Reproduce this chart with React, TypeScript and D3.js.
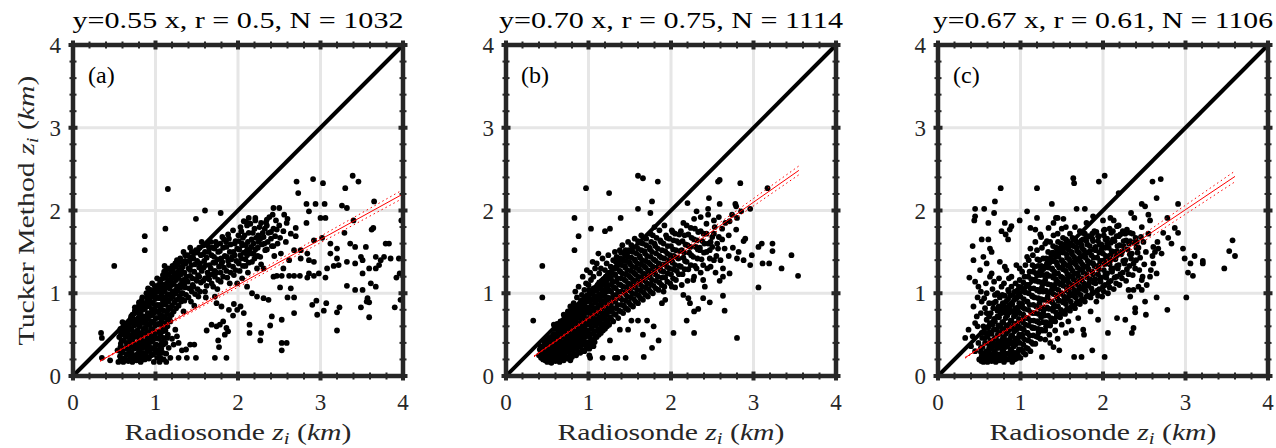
import React from 'react';
import * as d3 from 'd3';

// titles, labels and fit parameters
const titles = ['y=0.55 x, r = 0.5, N = 1032', 'y=0.70 x, r = 0.75, N = 1114', 'y=0.67 x, r = 0.61, N = 1106'];
const panelLabels = ['(a)', '(b)', '(c)'];
const slopes = [0.55, 0.7, 0.67];
const slopeErr = [0.013, 0.015, 0.018];
const fitRange = [[0.33, 4.0], [0.34, 3.55], [0.33, 3.6]];
const tickValues = [0, 1, 2, 3, 4];

type P = [number, number];

const pointsA: P[] = [
  [1.15,2.26],[0.50,1.33],[0.87,1.69],[0.87,1.52],[1.12,1.78],[1.60,2.00],[1.49,1.90],[1.79,1.97],[2.71,2.35],[2.73,2.21],
  [2.91,2.38],[3.03,2.33],[3.39,2.42],[3.46,2.35],[3.30,2.27],[3.65,2.11],[2.83,2.08],[2.94,2.08],[3.05,2.08],[2.86,1.99],
  [3.00,1.91],[3.06,1.91],[3.26,2.06],[3.32,2.03],[3.40,1.88],[3.62,1.77],[3.64,1.79],[3.98,1.88],[3.29,1.73],[2.70,1.79],
  [2.83,1.85],[2.70,1.69],[2.92,1.64],[3.02,1.67],[3.12,1.60],[3.20,1.54],[3.36,1.60],[3.42,1.56],[3.55,1.56],[3.79,1.60],
  [3.83,1.60],[3.77,1.44],[3.85,1.42],[3.95,1.42],[3.67,1.44],[3.73,1.40],[3.71,1.34],[3.49,1.44],[3.51,1.40],[3.67,1.30],
  [3.59,1.30],[3.51,1.24],[3.42,1.36],[3.32,1.38],[3.22,1.34],[3.16,1.33],[3.08,1.30],[3.06,1.19],[2.98,1.24],[2.92,1.21],
  [2.84,1.19],[2.86,1.24],[2.75,1.21],[2.68,1.21],[2.62,1.21],[2.53,1.21],[2.47,1.21],[2.76,1.42],[2.86,1.40],[2.92,1.38],
  [3.96,1.24],[3.92,1.19],[3.61,1.12],[3.67,1.08],[3.32,1.09],[3.42,1.04],[3.51,1.04],[3.57,0.94],[3.56,0.90],[3.59,0.89],
  [3.49,0.83],[3.59,0.71],[3.90,0.83],[3.97,0.92],[3.23,0.83],[3.20,0.77],[3.20,0.55],[3.04,0.79],[2.96,0.74],[2.90,0.86],
  [2.95,0.91],[3.07,0.88],[2.68,0.95],[2.60,0.95],[2.68,0.76],[2.51,1.07],[2.64,1.06],[2.53,0.68],[2.39,0.61],[2.41,0.72],
  [2.53,0.40],[2.59,0.40],[2.53,0.31],[2.27,0.43],[2.28,0.52],[2.14,0.52],[2.14,0.62],[2.07,0.76],[1.94,0.73],[1.95,0.87],
  [1.82,0.66],[1.78,0.62],[1.86,0.58],[1.84,0.50],[1.88,0.54],[1.76,0.43],[1.77,0.35],[1.72,0.22],[1.86,0.22],[1.49,0.22],
  [1.38,0.22],[1.28,0.22],[1.42,0.38],[1.47,0.38],[1.37,0.32],[1.32,0.31],[1.62,0.55],[1.68,0.62],[1.74,0.60],[1.28,0.40],
  [1.26,0.48],[1.18,0.66],[1.24,0.56],[1.14,0.46],[1.08,0.40],[0.34,0.52],[0.35,0.46],[0.35,0.22],[0.45,0.19],
  [2.43,2.03],[2.50,2.03],[2.59,1.85],[2.47,1.77],[2.51,1.67],[2.43,1.57],[2.35,1.53],[2.27,1.44],[2.35,1.89],[2.21,1.91],
  [2.13,1.91],[2.07,1.87],[2.05,1.60],[2.11,1.52],[2.19,1.48],[2.68,1.52],[2.76,1.52],[2.84,1.48],[3.12,1.48],[3.20,1.42],
  [2.23,1.30],[2.31,1.30],[2.43,1.20],[1.99,1.12],[2.11,1.08],[2.17,1.00],[2.23,0.96],[2.31,0.94],[2.37,0.92],[1.89,0.80],
  [1.99,0.80],[2.03,0.84],[1.72,0.96],[1.74,0.88],[1.80,0.84],
  [1.10,0.20],[1.13,0.27],[1.16,0.34],[1.12,0.40],[1.18,0.22],[1.06,0.22],[1.09,0.28],[1.15,0.50],[1.20,0.45],[1.22,0.38],
  [1.05,0.17],[0.98,0.17],[1.13,0.17],
  [0.55,0.17],[0.57,0.24],[0.54,0.31],[0.58,0.39],[0.56,0.47],[0.59,0.53],
  [0.61,0.17],[0.62,0.21],[0.60,0.29],[0.63,0.34],[0.61,0.43],[0.64,0.50],[0.62,0.59],[0.60,0.65],
  [0.67,0.18],[0.66,0.26],[0.68,0.31],[0.67,0.39],[0.69,0.44],[0.66,0.53],[0.68,0.60],[0.70,0.69],
  [0.72,0.17],[0.73,0.22],[0.71,0.28],[0.74,0.36],[0.72,0.42],[0.73,0.51],[0.71,0.56],[0.74,0.65],[0.72,0.74],[0.75,0.79],
  [0.77,0.19],[0.78,0.26],[0.76,0.34],[0.79,0.40],[0.77,0.48],[0.78,0.55],[0.76,0.63],[0.79,0.70],[0.77,0.78],[0.80,0.86],
  [0.82,0.17],[0.83,0.24],[0.81,0.30],[0.84,0.37],[0.82,0.46],[0.83,0.52],[0.81,0.61],[0.84,0.69],[0.82,0.75],[0.85,0.84],[0.83,0.91],
  [0.87,0.20],[0.88,0.26],[0.86,0.35],[0.89,0.42],[0.87,0.49],[0.88,0.58],[0.86,0.64],[0.89,0.72],[0.87,0.81],[0.88,0.88],[0.90,0.96],
  [0.92,0.21],[0.93,0.30],[0.91,0.37],[0.94,0.44],[0.92,0.53],[0.93,0.62],[0.91,0.69],[0.94,0.76],[0.92,0.85],[0.93,0.94],[0.95,1.00],[0.91,1.06],
  [0.97,0.26],[0.98,0.33],[0.96,0.42],[0.99,0.49],[0.97,0.56],[0.98,0.65],[0.96,0.74],[0.99,0.81],[0.97,0.88],[0.98,0.97],[1.00,1.05],[0.96,1.12],
  [1.02,0.22],[1.03,0.31],[1.01,0.38],[1.04,0.45],[1.02,0.54],[1.03,0.63],[1.01,0.70],[1.04,0.77],[1.02,0.86],[1.03,0.95],[1.01,1.02],[1.04,1.09],[1.02,1.18],
  [1.07,0.33],[1.08,0.41],[1.06,0.50],[1.09,0.59],[1.07,0.66],[1.08,0.73],[1.06,0.82],[1.09,0.91],[1.07,0.98],[1.08,1.05],[1.06,1.14],[1.09,1.22],
  [1.12,0.55],[1.13,0.64],[1.11,0.71],[1.14,0.78],[1.12,0.87],[1.13,0.96],[1.11,1.03],[1.14,1.10],[1.12,1.19],[1.13,1.28],[1.11,1.33],
  [1.17,0.70],[1.18,0.81],[1.16,0.90],[1.19,0.97],[1.17,1.06],[1.18,1.15],[1.16,1.22],[1.19,1.30],
  [1.22,0.78],[1.23,0.89],[1.21,0.96],[1.24,1.03],[1.22,1.12],[1.23,1.21],[1.21,1.28],[1.24,1.36],
  [1.28,0.85],[1.29,0.96],[1.27,1.03],[1.30,1.10],[1.28,1.19],[1.29,1.28],[1.27,1.35],[1.30,1.42],
  [1.34,0.78],[1.35,0.91],[1.33,1.00],[1.36,1.07],[1.34,1.16],[1.35,1.25],[1.33,1.32],[1.36,1.39],[1.34,1.50],
  [1.40,0.95],[1.41,1.06],[1.39,1.14],[1.42,1.21],[1.40,1.30],[1.41,1.39],[1.39,1.46],[1.42,1.55],
  [1.47,0.85],[1.48,0.99],[1.46,1.08],[1.49,1.17],[1.47,1.26],[1.48,1.35],[1.46,1.42],[1.49,1.52],
  [1.54,1.02],[1.55,1.13],[1.53,1.20],[1.56,1.27],[1.54,1.36],[1.55,1.46],[1.53,1.55],[1.56,1.62],
  [1.61,0.95],[1.62,1.09],[1.60,1.18],[1.63,1.25],[1.61,1.34],[1.62,1.43],[1.60,1.50],[1.63,1.58],
  [1.68,1.12],[1.69,1.23],[1.67,1.30],[1.70,1.37],[1.68,1.46],[1.69,1.55],[1.67,1.62],
  [1.75,1.05],[1.76,1.16],[1.74,1.25],[1.77,1.32],[1.75,1.41],[1.76,1.50],[1.74,1.58],
  [1.82,1.20],[1.83,1.31],[1.81,1.38],[1.84,1.45],[1.82,1.55],[1.83,1.65],
  [1.90,1.12],[1.91,1.25],[1.89,1.34],[1.92,1.41],[1.90,1.50],[1.91,1.59],[1.89,1.66],
  [1.97,1.28],[1.98,1.39],[1.96,1.46],[1.99,1.54],[1.97,1.63],
  [2.05,1.18],[2.06,1.33],[2.04,1.42],[2.07,1.49],[2.05,1.58],[2.06,1.67],[2.04,1.75],
  [2.12,1.25],[2.13,1.37],[2.11,1.46],[2.14,1.53],[2.12,1.62],[2.13,1.73],[2.11,1.82],
  [2.20,1.42],[2.21,1.53],[2.19,1.60],[2.22,1.67],[2.20,1.78],[2.21,1.88],
  [2.28,1.35],[2.29,1.59],[2.27,1.66],[2.30,1.73],[2.28,1.85],
  [2.36,1.62],[2.37,1.73],[2.35,1.82],[2.38,1.92],
  [2.44,1.45],[2.45,1.69],[2.43,1.78],[2.46,1.88],
];

// second, staggered set of points filling the dense core of (a)
const denseA: P[] = [
  [0.58,0.20],[0.585,0.28],[0.575,0.35],[0.59,0.43],[0.58,0.50],[0.575,0.57],
  [0.64,0.20],[0.645,0.26],[0.635,0.33],[0.65,0.40],[0.64,0.47],[0.645,0.55],[0.635,0.62],
  [0.695,0.21],[0.70,0.27],[0.69,0.35],[0.705,0.41],[0.695,0.49],[0.70,0.56],[0.69,0.64],[0.705,0.72],
  [0.745,0.20],[0.75,0.25],[0.74,0.33],[0.755,0.39],[0.745,0.47],[0.75,0.53],[0.74,0.61],[0.755,0.68],[0.745,0.76],[0.75,0.83],
  [0.795,0.21],[0.80,0.30],[0.79,0.36],[0.805,0.44],[0.795,0.51],[0.80,0.60],[0.79,0.66],[0.805,0.74],[0.795,0.82],[0.80,0.89],
  [0.845,0.20],[0.85,0.28],[0.84,0.34],[0.855,0.42],[0.845,0.49],[0.85,0.57],[0.84,0.65],[0.855,0.72],[0.845,0.80],[0.85,0.88],[0.84,0.95],
  [0.895,0.23],[0.90,0.31],[0.89,0.38],[0.905,0.46],[0.895,0.53],[0.90,0.62],[0.89,0.68],[0.905,0.76],[0.895,0.84],[0.90,0.92],[0.89,1.00],
  [0.945,0.25],[0.95,0.34],[0.94,0.41],[0.955,0.49],[0.945,0.57],[0.95,0.66],[0.94,0.73],[0.955,0.81],[0.945,0.89],[0.95,0.97],[0.94,1.04],
  [0.995,0.28],[1.00,0.37],[0.99,0.45],[1.005,0.53],[0.995,0.61],[1.00,0.70],[0.99,0.77],[1.005,0.85],[0.995,0.93],[1.00,1.01],[0.99,1.09],
  [1.045,0.27],[1.05,0.37],[1.04,0.46],[1.055,0.54],[1.045,0.62],[1.05,0.71],[1.04,0.78],[1.055,0.86],[1.045,0.94],[1.05,1.02],[1.04,1.10],[1.055,1.16],
  [1.095,0.38],[1.10,0.46],[1.09,0.54],[1.105,0.62],[1.095,0.70],[1.10,0.79],[1.09,0.86],[1.105,0.94],[1.095,1.02],[1.10,1.10],[1.09,1.18],[1.105,1.26],
  [1.145,0.60],[1.15,0.68],[1.14,0.75],[1.155,0.83],[1.145,0.91],[1.15,0.99],[1.14,1.07],[1.155,1.15],[1.145,1.23],[1.15,1.30],
  [1.195,0.74],[1.20,0.85],[1.19,0.94],[1.205,1.02],[1.195,1.10],[1.20,1.18],[1.19,1.26],[1.205,1.33],
  [1.25,0.82],[1.255,0.92],[1.245,1.00],[1.26,1.08],[1.25,1.16],[1.255,1.24],[1.245,1.32],[1.26,1.40],
  [1.31,0.90],[1.315,1.00],[1.305,1.07],[1.32,1.15],[1.31,1.23],[1.315,1.31],[1.305,1.38],
  [1.37,0.98],[1.375,1.20],[1.365,1.36],[1.44,1.02],[1.445,1.18],[1.435,1.34],[1.44,1.50],
  [1.51,1.05],[1.515,1.22],[1.505,1.39],[1.58,1.15],[1.585,1.31],[1.575,1.47],[1.65,1.17],[1.655,1.34],[1.645,1.50],
  [1.72,1.20],[1.725,1.37],[1.715,1.54],[1.79,1.25],[1.795,1.42],[1.785,1.60],[1.86,1.27],[1.865,1.44],[1.855,1.62],
  [1.94,1.32],[1.945,1.50],[2.01,1.36],[2.015,1.53],[2.005,1.70],[2.09,1.41],[2.095,1.58],[2.16,1.48],[2.165,1.65],
  [2.24,1.55],[2.245,1.70],[2.32,1.60],[2.325,1.78],[2.40,1.66],
];

// further points in the band of (a) between x = 1.3 and 2.65
const fillA: P[] = [
  [1.32,0.93],[1.35,1.12],[1.31,1.29],[1.36,1.46],[1.43,0.90],[1.45,1.10],[1.42,1.28],[1.44,1.43],
  [1.52,0.96],[1.50,1.15],[1.53,1.31],[1.51,1.49],[1.58,1.58],[1.60,1.02],[1.64,1.21],[1.59,1.39],[1.65,1.55],
  [1.70,1.08],[1.72,1.27],[1.71,1.44],[1.73,1.62],[1.79,1.14],[1.80,1.36],[1.78,1.51],[1.81,1.68],
  [1.87,1.19],[1.88,1.39],[1.86,1.56],[1.88,1.71],[1.95,1.22],[1.93,1.44],[1.96,1.60],[1.94,1.76],
  [2.02,1.27],[2.03,1.46],[2.01,1.63],[2.03,1.80],[2.09,1.33],[2.10,1.50],[2.08,1.70],[2.10,1.86],
  [2.17,1.38],[2.16,1.56],[2.18,1.73],[2.15,1.84],[2.24,1.45],[2.25,1.62],[2.26,1.80],
  [2.33,1.52],[2.31,1.68],[2.34,1.86],[2.41,1.57],[2.40,1.74],[2.42,1.95],
  [2.48,1.60],[2.50,1.82],[2.55,1.75],[2.56,1.95],
  [2.52,1.48],[2.58,1.62],[2.62,1.40],[2.55,1.30],[2.60,1.90],[2.64,1.72],
];

const pointsB: P[] = [
  [0.33,0.67],[0.44,1.33],[0.44,0.95],[0.83,1.91],[0.83,1.52],[0.88,1.69],[0.97,2.27],[1.25,2.21],[1.60,2.42],[1.66,2.39],
  [1.84,2.35],[1.77,2.11],[1.60,2.02],[1.03,1.78],[1.20,1.75],[1.26,1.78],[1.39,1.91],[1.75,1.97],[2.57,2.35],[2.59,2.37],
  [2.84,2.33],[3.17,2.27],[2.46,2.15],[2.59,2.08],[2.78,2.08],[2.79,2.05],[2.96,2.02],[2.20,2.09],[2.31,1.99],[2.45,2.02],
  [2.71,1.87],[2.79,1.77],[2.80,1.91],[2.90,1.66],[2.88,1.63],[2.50,1.56],[2.57,1.54],[2.65,1.54],[2.98,1.46],[3.06,1.56],
  [3.10,1.60],[3.23,1.60],[3.23,1.51],[3.11,1.36],[3.19,1.36],[3.46,1.46],[3.34,1.30],[3.54,1.21],[3.06,1.07],[2.80,1.42],
  [2.88,1.40],[2.96,1.34],[2.63,1.30],[2.71,1.24],[2.59,1.15],[2.63,1.20],[2.47,1.42],[2.39,1.34],[2.31,1.30],[2.39,1.16],
  [2.41,1.08],[2.27,1.16],[2.63,0.97],[2.47,0.89],[2.39,0.94],[2.65,0.79],[2.28,0.78],[2.33,0.81],[2.19,0.67],[2.28,0.52],
  [2.80,0.46],[2.03,0.52],[1.85,0.43],[1.77,0.34],[1.67,0.23],[1.45,0.22],[1.35,0.22],[1.32,0.22],[1.17,0.22],[1.01,0.25],
  [1.02,0.22],[0.78,0.19],[1.66,0.50],[1.48,0.56],[1.38,0.56],[1.26,0.43],[1.06,0.36],[1.01,0.33],[1.79,0.60],[1.71,0.67],
  [1.60,0.67],[1.52,0.67],[1.91,1.02],[1.93,0.92],[1.89,0.88],[2.01,1.08],[2.05,1.07],[2.15,0.98],[2.21,0.94],[2.23,0.88],
  [2.66,1.85],[2.74,1.95],[2.85,1.99],[2.52,1.72],[2.58,1.68],[2.70,1.70],[2.62,1.78],[2.43,1.84],[2.36,1.92],[2.28,1.90],
  [2.15,1.85],[2.48,1.62],[2.55,1.45],[2.43,1.50],[2.35,1.55],[2.75,1.55],[2.82,1.50],[2.70,1.45],
  [0.75,0.78],[0.78,0.84],[0.82,0.88],[0.86,0.95],[0.84,1.02],[0.88,1.08],[0.92,0.98],[0.95,1.04],[0.97,1.12],[1.00,1.10],
  [1.03,1.16],[1.02,1.25],[1.06,1.20],[1.08,1.30],[1.10,1.36],[1.13,1.24],[1.15,1.30],[1.17,1.42],[1.20,1.28],[1.22,1.36],
  [1.24,1.46],[1.27,1.32],[1.30,1.40],[1.32,1.50],[1.34,1.44],[1.38,1.52],[1.41,1.58],[1.45,1.52],[1.48,1.62],[1.52,1.58],
  [1.56,1.66],[1.60,1.63],[1.64,1.70],[1.70,1.66],[1.75,1.72],[1.80,1.80],[1.86,1.76],[1.92,1.82],[0.70,0.74],[0.66,0.66],
  [0.62,0.63],[0.58,0.62],[0.93,1.20],[0.98,1.28],[1.12,1.48],[1.05,1.38],
  [0.40,0.25],[0.41,0.32],
  [0.45,0.20],[0.46,0.27],[0.44,0.34],[0.47,0.40],
  [0.50,0.17],[0.51,0.24],[0.49,0.29],[0.52,0.37],[0.50,0.43],
  [0.55,0.16],[0.56,0.22],[0.54,0.29],[0.57,0.34],[0.55,0.42],[0.56,0.48],
  [0.60,0.18],[0.61,0.23],[0.59,0.30],[0.62,0.35],[0.60,0.43],[0.61,0.49],[0.59,0.57],
  [0.65,0.17],[0.66,0.25],[0.64,0.30],[0.67,0.38],[0.65,0.44],[0.66,0.52],[0.64,0.58],
  [0.70,0.19],[0.71,0.27],[0.69,0.33],[0.72,0.41],[0.70,0.47],[0.71,0.55],[0.69,0.61],[0.72,0.68],
  [0.75,0.21],[0.76,0.29],[0.74,0.35],[0.77,0.43],[0.75,0.49],[0.76,0.57],[0.74,0.63],[0.77,0.71],
  [0.80,0.23],[0.81,0.31],[0.79,0.37],[0.82,0.45],[0.80,0.51],[0.81,0.59],[0.79,0.65],[0.82,0.73],[0.80,0.79],
  [0.85,0.25],[0.86,0.33],[0.84,0.39],[0.87,0.47],[0.85,0.53],[0.86,0.61],[0.84,0.67],[0.87,0.75],[0.85,0.81],
  [0.90,0.28],[0.91,0.36],[0.89,0.42],[0.92,0.50],[0.90,0.56],[0.91,0.64],[0.89,0.70],[0.92,0.78],[0.90,0.84],[0.91,0.91],
  [0.95,0.30],[0.96,0.38],[0.94,0.44],[0.97,0.52],[0.95,0.58],[0.96,0.66],[0.94,0.72],[0.97,0.80],[0.95,0.86],[0.96,0.94],
  [1.00,0.40],[1.01,0.48],[0.99,0.54],[1.02,0.62],[1.00,0.68],[1.01,0.76],[0.99,0.82],[1.02,0.90],[1.00,0.96],[1.01,1.04],
  [1.05,0.43],[1.06,0.51],[1.04,0.57],[1.07,0.65],[1.05,0.71],[1.06,0.79],[1.04,0.85],[1.07,0.93],[1.05,0.99],[1.06,1.06],
  [1.10,0.47],[1.11,0.55],[1.09,0.61],[1.12,0.69],[1.10,0.75],[1.11,0.83],[1.09,0.89],[1.12,0.97],[1.10,1.03],[1.11,1.10],
  [1.15,0.52],[1.16,0.60],[1.14,0.66],[1.17,0.74],[1.15,0.80],[1.16,0.88],[1.14,0.94],[1.17,1.02],[1.15,1.08],[1.16,1.15],
  [1.20,0.57],[1.21,0.65],[1.19,0.71],[1.22,0.79],[1.20,0.85],[1.21,0.93],[1.19,0.99],[1.22,1.07],[1.20,1.13],[1.21,1.20],
  [1.25,0.62],[1.26,0.71],[1.24,0.78],[1.27,0.87],[1.25,0.94],[1.26,1.03],[1.24,1.10],[1.27,1.19],[1.25,1.25],
  [1.30,0.66],[1.31,0.75],[1.29,0.82],[1.32,0.91],[1.30,0.98],[1.31,1.07],[1.29,1.14],[1.32,1.23],[1.30,1.30],
  [1.36,0.70],[1.37,0.79],[1.35,0.86],[1.38,0.95],[1.36,1.02],[1.37,1.11],[1.35,1.18],[1.38,1.27],[1.36,1.34],[1.37,1.42],
  [1.42,0.76],[1.43,0.85],[1.41,0.92],[1.44,1.01],[1.42,1.08],[1.43,1.17],[1.41,1.24],[1.44,1.33],[1.42,1.40],[1.43,1.48],
  [1.48,0.80],[1.49,0.89],[1.47,0.96],[1.50,1.05],[1.48,1.12],[1.49,1.21],[1.47,1.28],[1.50,1.37],[1.48,1.44],[1.49,1.52],
  [1.54,0.84],[1.55,0.93],[1.53,1.00],[1.56,1.09],[1.54,1.16],[1.55,1.25],[1.53,1.32],[1.56,1.41],[1.54,1.50],
  [1.60,0.88],[1.61,0.97],[1.59,1.04],[1.62,1.13],[1.60,1.20],[1.61,1.29],[1.59,1.36],[1.62,1.45],[1.60,1.54],
  [1.66,0.92],[1.67,1.01],[1.65,1.08],[1.68,1.17],[1.66,1.24],[1.67,1.33],[1.65,1.40],[1.68,1.51],[1.66,1.60],
  [1.72,0.96],[1.73,1.05],[1.71,1.12],[1.74,1.21],[1.72,1.28],[1.73,1.37],[1.71,1.45],[1.74,1.55],
  [1.78,1.00],[1.79,1.09],[1.77,1.16],[1.80,1.25],[1.78,1.32],[1.79,1.41],[1.77,1.50],[1.80,1.60],[1.78,1.70],
  [1.85,1.04],[1.86,1.13],[1.84,1.20],[1.87,1.29],[1.85,1.36],[1.86,1.45],[1.84,1.54],[1.87,1.64],
  [1.92,1.08],[1.93,1.19],[1.91,1.26],[1.94,1.35],[1.92,1.42],[1.93,1.51],[1.91,1.60],[1.94,1.70],
  [1.99,1.12],[2.00,1.23],[1.98,1.30],[2.01,1.39],[1.99,1.46],[2.00,1.57],[1.98,1.66],[2.01,1.76],
  [2.06,1.16],[2.07,1.27],[2.05,1.34],[2.08,1.43],[2.06,1.52],[2.07,1.63],[2.05,1.72],
  [2.13,1.10],[2.14,1.23],[2.12,1.32],[2.15,1.43],[2.13,1.52],[2.14,1.63],[2.12,1.75],
  [2.20,1.15],[2.21,1.29],[2.19,1.38],[2.22,1.49],[2.20,1.58],[2.21,1.71],[2.19,1.82],
  [2.28,1.20],[2.29,1.33],[2.27,1.44],[2.30,1.56],[2.28,1.65],[2.29,1.78],
  [2.36,1.25],[2.37,1.41],[2.35,1.52],[2.38,1.63],[2.36,1.75],
  [2.44,1.30],[2.45,1.60],[2.43,1.72],
  [2.52,1.40],[2.53,1.80],
];

// second, staggered set of points filling the dense band of (b)
const denseB: P[] = [
  [0.425,0.22],[0.43,0.29],[0.42,0.36],
  [0.475,0.19],[0.48,0.24],[0.47,0.31],[0.485,0.37],[0.475,0.43],
  [0.525,0.20],[0.53,0.26],[0.52,0.33],[0.535,0.40],[0.525,0.46],
  [0.575,0.19],[0.58,0.25],[0.57,0.31],[0.585,0.38],[0.575,0.45],[0.58,0.51],
  [0.625,0.20],[0.63,0.26],[0.62,0.32],[0.635,0.39],[0.625,0.46],[0.63,0.53],[0.62,0.59],
  [0.675,0.21],[0.68,0.28],[0.67,0.34],[0.685,0.41],[0.675,0.48],[0.68,0.55],[0.67,0.62],
  [0.725,0.23],[0.73,0.30],[0.72,0.37],[0.735,0.44],[0.725,0.51],[0.73,0.58],[0.72,0.64],[0.735,0.70],
  [0.775,0.25],[0.78,0.32],[0.77,0.39],[0.785,0.46],[0.775,0.53],[0.78,0.60],[0.77,0.67],[0.785,0.74],
  [0.825,0.27],[0.83,0.34],[0.82,0.41],[0.835,0.48],[0.825,0.55],[0.83,0.62],[0.82,0.69],[0.835,0.76],[0.825,0.82],
  [0.875,0.29],[0.88,0.36],[0.87,0.43],[0.885,0.50],[0.875,0.57],[0.88,0.64],[0.87,0.71],[0.885,0.78],[0.875,0.85],
  [0.925,0.31],[0.93,0.39],[0.92,0.46],[0.935,0.53],[0.925,0.60],[0.93,0.67],[0.92,0.74],[0.935,0.81],[0.925,0.88],
  [0.975,0.35],[0.98,0.41],[0.97,0.48],[0.985,0.55],[0.975,0.62],[0.98,0.69],[0.97,0.76],[0.985,0.83],[0.975,0.90],[0.98,0.97],
  [1.025,0.38],[1.03,0.44],[1.02,0.51],[1.035,0.58],[1.025,0.65],[1.03,0.72],[1.02,0.79],[1.035,0.86],[1.025,0.93],[1.03,1.00],
  [1.075,0.41],[1.08,0.47],[1.07,0.54],[1.085,0.61],[1.075,0.68],[1.08,0.75],[1.07,0.82],[1.085,0.89],[1.075,0.96],[1.08,1.03],
  [1.125,0.50],[1.13,0.57],[1.12,0.64],[1.135,0.71],[1.125,0.78],[1.13,0.85],[1.12,0.92],[1.135,0.99],[1.125,1.06],[1.13,1.13],
  [1.175,0.55],[1.18,0.62],[1.17,0.69],[1.185,0.76],[1.175,0.83],[1.18,0.90],[1.17,0.97],[1.185,1.04],[1.175,1.11],[1.18,1.17],
  [1.225,0.60],[1.23,0.67],[1.22,0.74],[1.235,0.81],[1.225,0.88],[1.23,0.95],[1.22,1.02],[1.235,1.09],[1.225,1.16],[1.23,1.22],
  [1.275,0.69],[1.28,0.78],[1.27,0.86],[1.285,0.94],[1.275,1.02],[1.28,1.10],[1.27,1.18],[1.285,1.25],
  [1.33,0.74],[1.335,0.82],[1.325,0.90],[1.34,0.98],[1.33,1.06],[1.335,1.14],[1.325,1.22],[1.34,1.30],[1.33,1.38],
  [1.39,0.78],[1.395,0.86],[1.385,0.94],[1.40,1.02],[1.39,1.10],[1.395,1.18],[1.385,1.26],[1.40,1.34],[1.39,1.42],[1.395,1.49],
  [1.45,0.82],[1.455,0.91],[1.445,0.99],[1.46,1.07],[1.45,1.15],[1.455,1.23],[1.445,1.31],[1.46,1.39],[1.45,1.47],
  [1.51,0.86],[1.515,0.95],[1.505,1.03],[1.52,1.11],[1.51,1.19],[1.515,1.27],[1.505,1.35],[1.52,1.43],[1.51,1.51],
  [1.57,0.90],[1.575,0.99],[1.565,1.07],[1.58,1.15],[1.57,1.23],[1.575,1.31],[1.565,1.39],[1.58,1.48],
  [1.63,0.94],[1.635,1.03],[1.625,1.11],[1.64,1.19],[1.63,1.27],[1.635,1.35],[1.625,1.43],[1.64,1.52],[1.63,1.61],
  [1.69,0.98],[1.695,1.07],[1.685,1.15],[1.70,1.23],[1.69,1.31],[1.695,1.39],[1.685,1.48],[1.70,1.58],
  [1.75,1.02],[1.755,1.11],[1.745,1.19],[1.76,1.27],[1.75,1.35],[1.755,1.44],[1.745,1.53],[1.76,1.62],
  [1.815,1.06],[1.82,1.15],[1.81,1.23],[1.825,1.31],[1.815,1.39],[1.82,1.48],[1.81,1.57],[1.825,1.67],
  [1.885,1.10],[1.89,1.19],[1.88,1.27],[1.895,1.35],[1.885,1.43],[1.89,1.52],[1.88,1.62],
  [1.955,1.14],[1.96,1.24],[1.95,1.32],[1.965,1.40],[1.955,1.48],[1.96,1.57],[1.95,1.67],
  [2.025,1.18],[2.03,1.29],[2.02,1.37],[2.035,1.45],[2.025,1.53],[2.03,1.64],[2.02,1.74],
  [2.095,1.23],[2.10,1.33],[2.09,1.42],[2.105,1.51],[2.095,1.61],[2.10,1.71],
  [2.165,1.29],[2.17,1.39],[2.16,1.49],[2.175,1.59],[2.165,1.70],
  [2.24,1.34],[2.245,1.46],[2.235,1.56],[2.25,1.67],[2.24,1.79],
  [2.32,1.42],[2.325,1.53],[2.315,1.64],[2.33,1.74],
  [2.40,1.49],[2.405,1.60],[2.395,1.72],
];

// points softening the right end of the band of (b)
const fillB: P[] = [
  [2.47,1.52],[2.50,1.68],[2.52,1.88],[2.56,1.60],[2.60,1.40],[2.48,1.32],[2.54,1.25],[2.58,1.92],[2.62,1.65],[2.45,1.95],
];

const pointsC: P[] = [
  [0.76,2.27],[0.69,2.11],[0.45,2.02],[0.56,2.02],[0.45,1.93],[0.44,1.88],[0.68,1.97],[0.61,1.85],[0.42,1.57],[0.38,1.19],
  [0.33,0.46],[1.20,2.27],[1.38,2.08],[1.08,1.99],[0.99,1.88],[1.20,1.91],[1.43,1.91],[1.45,1.91],[1.64,2.39],[1.65,2.33],
  [1.68,2.02],[1.78,2.02],[1.95,2.35],[2.02,2.42],[2.19,2.21],[1.88,1.93],[2.00,1.88],[2.09,1.91],[2.13,1.88],[2.60,2.35],
  [2.70,2.38],[2.65,2.15],[2.47,2.08],[2.51,2.05],[2.34,1.97],[2.38,1.91],[2.57,1.88],[2.78,1.91],[2.91,2.08],[2.87,1.79],
  [2.91,1.73],[2.73,1.73],[2.79,1.67],[2.83,1.60],[2.61,1.56],[2.67,1.54],[2.63,1.50],[2.71,1.48],[2.97,1.54],[2.99,1.42],
  [3.11,1.45],[3.06,1.36],[3.21,1.39],[3.21,1.36],[3.03,1.25],[3.09,1.21],[3.57,1.64],[3.53,1.51],[3.60,1.45],[3.47,1.30],
  [3.01,0.95],[2.78,0.80],[2.65,0.95],[2.52,0.74],[2.51,0.90],[2.39,0.82],[2.39,0.77],[2.35,0.52],[2.37,0.58],[2.27,0.68],
  [2.17,0.70],[2.06,0.52],[2.02,0.23],[1.87,0.31],[1.94,0.68],[1.76,0.56],[1.77,0.50],[1.74,0.23],[1.65,0.23],[1.47,0.31],
  [1.40,0.35],[1.36,0.40],[1.26,0.23],[2.61,1.36],[2.57,1.20],[2.65,1.24],[2.47,1.16],[2.43,1.08],[2.47,1.04],[2.37,1.04],
  [2.31,1.04],[2.33,0.96],
  [0.53,1.65],[0.61,1.65],[0.63,1.54],[0.65,1.50],[0.77,1.75],[0.81,1.85],[0.82,1.71],[0.87,1.77],[0.89,1.81],[0.85,1.65],
  [0.43,1.40],[0.55,1.44],[0.59,1.36],[0.51,1.28],[0.45,1.14],[0.49,1.08],[0.59,1.00],[0.63,1.20],[0.65,1.24],[0.75,1.38],
  [0.81,1.32],[0.83,1.28],[0.77,1.08],[0.85,1.04],[0.69,0.98],[0.53,0.90],[0.43,0.84],[0.47,0.72],[0.45,0.64],[0.37,0.56],
  [0.59,0.76],[0.53,0.52],[0.99,1.30],[1.08,1.44],[1.12,1.54],[1.18,1.77],[1.24,1.71],[1.32,1.63],[1.34,1.79],[1.12,1.79],
  [0.89,1.20],[0.95,1.34],
  [0.48,0.95],[0.52,1.02],[0.56,0.94],[0.58,1.12],[0.62,0.88],[0.66,1.05],[0.68,1.14],[0.72,1.00],[0.74,1.18],[0.78,0.98],
  [0.80,1.12],[0.86,1.18],[0.57,0.82],[0.52,0.76],[0.48,0.60],[0.42,0.48],[0.40,0.36],[0.45,0.30],
  [1.02,1.26],[1.06,1.34],[1.10,1.40],[1.15,1.46],[1.20,1.52],[1.26,1.55],[1.30,1.60],[1.36,1.62],[1.40,1.70],[1.45,1.72],
  [1.50,1.78],[1.55,1.80],[1.18,1.62],[1.25,1.68],[1.40,1.85],[1.52,1.90],[1.60,1.72],[1.66,1.80],[1.72,1.75],[1.80,1.85],
  [1.35,0.50],[1.42,0.55],[1.50,0.62],[1.58,0.66],[1.45,0.45],[1.62,0.55],[1.70,0.70],[1.55,0.52],[1.85,0.78],[1.30,0.44],
  [0.50,0.20],[0.52,0.29],[0.49,0.40],
  [0.55,0.17],[0.56,0.26],[0.54,0.35],[0.57,0.46],[0.55,0.60],
  [0.60,0.17],[0.61,0.24],[0.59,0.30],[0.62,0.39],[0.60,0.48],[0.61,0.59],[0.59,0.68],
  [0.65,0.18],[0.66,0.24],[0.64,0.33],[0.67,0.40],[0.65,0.51],[0.66,0.62],[0.64,0.76],[0.67,0.88],
  [0.70,0.17],[0.71,0.23],[0.69,0.30],[0.72,0.39],[0.70,0.46],[0.71,0.56],[0.69,0.66],[0.72,0.79],[0.70,0.90],
  [0.75,0.19],[0.76,0.25],[0.74,0.34],[0.77,0.41],[0.75,0.51],[0.76,0.60],[0.74,0.71],[0.77,0.82],[0.75,0.95],
  [0.80,0.17],[0.81,0.24],[0.79,0.31],[0.82,0.40],[0.80,0.47],[0.81,0.57],[0.79,0.65],[0.82,0.76],[0.80,0.85],[0.81,0.97],
  [0.85,0.20],[0.86,0.27],[0.84,0.36],[0.87,0.44],[0.85,0.54],[0.86,0.62],[0.84,0.73],[0.87,0.82],[0.85,0.93],[0.86,1.02],
  [0.90,0.17],[0.91,0.25],[0.89,0.32],[0.92,0.41],[0.90,0.49],[0.91,0.59],[0.89,0.67],[0.92,0.78],[0.90,0.87],[0.91,0.98],[0.89,1.08],
  [0.95,0.21],[0.96,0.28],[0.94,0.38],[0.97,0.46],[0.95,0.56],[0.96,0.64],[0.94,0.74],[0.97,0.83],[0.95,0.94],[0.96,1.03],[0.94,1.12],
  [1.00,0.22],[1.01,0.32],[0.99,0.40],[1.02,0.50],[1.00,0.58],[1.01,0.68],[0.99,0.76],[1.02,0.87],[1.00,0.96],[1.01,1.07],[0.99,1.16],
  [1.06,0.26],[1.07,0.34],[1.05,0.44],[1.08,0.52],[1.06,0.62],[1.07,0.70],[1.05,0.81],[1.08,0.90],[1.06,1.01],[1.07,1.10],[1.05,1.20],
  [1.12,0.30],[1.13,0.41],[1.11,0.49],[1.14,0.59],[1.12,0.67],[1.13,0.77],[1.11,0.86],[1.14,0.97],[1.12,1.06],[1.13,1.17],[1.11,1.26],
  [1.18,0.39],[1.19,0.48],[1.17,0.58],[1.20,0.66],[1.18,0.76],[1.19,0.84],[1.17,0.95],[1.20,1.04],[1.18,1.15],[1.19,1.24],[1.17,1.32],
  [1.24,0.45],[1.25,0.56],[1.23,0.64],[1.26,0.74],[1.24,0.82],[1.25,0.93],[1.23,1.02],[1.26,1.13],[1.24,1.22],[1.25,1.33],[1.23,1.40],
  [1.30,0.55],[1.31,0.65],[1.29,0.73],[1.32,0.83],[1.30,0.92],[1.31,1.03],[1.29,1.12],[1.32,1.23],[1.30,1.32],[1.31,1.42],
  [1.36,0.61],[1.37,0.70],[1.35,0.81],[1.38,0.90],[1.36,1.01],[1.37,1.10],[1.35,1.21],[1.38,1.30],[1.36,1.41],[1.37,1.48],
  [1.42,0.66],[1.43,0.77],[1.41,0.86],[1.44,0.97],[1.42,1.06],[1.43,1.17],[1.41,1.26],[1.44,1.37],[1.42,1.46],[1.43,1.55],
  [1.48,0.71],[1.49,0.80],[1.47,0.91],[1.50,1.00],[1.48,1.11],[1.49,1.20],[1.47,1.31],[1.50,1.40],[1.48,1.51],[1.49,1.60],
  [1.54,0.75],[1.55,0.87],[1.53,0.96],[1.56,1.07],[1.54,1.16],[1.55,1.27],[1.53,1.36],[1.56,1.47],[1.54,1.56],[1.55,1.65],
  [1.60,0.79],[1.61,0.90],[1.59,1.01],[1.62,1.10],[1.60,1.21],[1.61,1.30],[1.59,1.41],[1.62,1.50],[1.60,1.60],
  [1.66,0.82],[1.67,0.95],[1.65,1.04],[1.68,1.15],[1.66,1.24],[1.67,1.35],[1.65,1.44],[1.68,1.55],[1.66,1.66],
  [1.72,0.87],[1.73,0.98],[1.71,1.09],[1.74,1.18],[1.72,1.29],[1.73,1.38],[1.71,1.49],[1.74,1.58],
  [1.78,0.90],[1.79,1.03],[1.77,1.12],[1.80,1.23],[1.78,1.32],[1.79,1.43],[1.77,1.52],[1.80,1.63],[1.78,1.72],
  [1.85,0.95],[1.86,1.06],[1.84,1.17],[1.87,1.26],[1.85,1.37],[1.86,1.46],[1.84,1.57],[1.87,1.66],
  [1.92,0.90],[1.93,1.03],[1.91,1.12],[1.94,1.23],[1.92,1.32],[1.93,1.43],[1.91,1.52],[1.94,1.63],[1.92,1.74],
  [1.99,0.96],[2.00,1.08],[1.98,1.19],[2.01,1.28],[1.99,1.39],[2.00,1.48],[1.98,1.59],[2.01,1.70],
  [2.06,1.00],[2.07,1.13],[2.05,1.24],[2.08,1.35],[2.06,1.44],[2.07,1.55],[2.05,1.66],[2.08,1.78],
  [2.13,1.05],[2.14,1.19],[2.12,1.30],[2.15,1.41],[2.13,1.50],[2.14,1.63],[2.12,1.75],
  [2.20,1.10],[2.21,1.23],[2.19,1.34],[2.22,1.47],[2.20,1.58],[2.21,1.71],[2.19,1.82],
  [2.28,1.15],[2.29,1.29],[2.27,1.40],[2.30,1.53],[2.28,1.64],[2.29,1.77],
  [2.36,1.22],[2.37,1.36],[2.35,1.48],[2.38,1.61],[2.36,1.72],
  [2.44,1.28],[2.45,1.43],[2.43,1.55],[2.46,1.68],
];

// second, staggered set of points filling the dense cloud of (c)
const denseC: P[] = [
  [0.525,0.18],[0.53,0.24],[0.52,0.34],[0.535,0.46],
  [0.575,0.20],[0.58,0.29],[0.57,0.40],[0.585,0.52],
  [0.625,0.20],[0.63,0.27],[0.62,0.34],[0.635,0.43],[0.625,0.53],[0.63,0.64],[0.62,0.72],
  [0.675,0.20],[0.68,0.28],[0.67,0.36],[0.685,0.45],[0.675,0.56],[0.68,0.69],[0.67,0.82],
  [0.725,0.19],[0.73,0.26],[0.72,0.34],[0.735,0.42],[0.725,0.50],[0.73,0.61],[0.72,0.72],[0.735,0.84],
  [0.775,0.21],[0.78,0.29],[0.77,0.37],[0.785,0.45],[0.775,0.55],[0.78,0.65],[0.77,0.76],[0.785,0.88],
  [0.825,0.20],[0.83,0.27],[0.82,0.35],[0.835,0.43],[0.825,0.51],[0.83,0.61],[0.82,0.70],[0.835,0.80],[0.825,0.90],
  [0.875,0.22],[0.88,0.31],[0.87,0.39],[0.885,0.48],[0.875,0.57],[0.88,0.67],[0.87,0.77],[0.885,0.87],[0.875,0.97],
  [0.925,0.20],[0.93,0.28],[0.92,0.36],[0.935,0.45],[0.925,0.54],[0.93,0.63],[0.92,0.72],[0.935,0.82],[0.925,0.92],[0.93,1.02],
  [0.975,0.24],[0.98,0.32],[0.97,0.41],[0.985,0.50],[0.975,0.60],[0.98,0.69],[0.97,0.78],[0.985,0.88],[0.975,0.98],[0.98,1.08],
  [1.03,0.29],[1.035,0.38],[1.025,0.47],[1.04,0.56],[1.03,0.65],[1.035,0.74],[1.025,0.83],[1.04,0.93],[1.03,1.03],[1.035,1.13],
  [1.09,0.33],[1.095,0.43],[1.085,0.52],[1.10,0.61],[1.09,0.70],[1.095,0.80],[1.085,0.90],[1.10,1.00],[1.09,1.10],[1.095,1.20],
  [1.15,0.39],[1.155,0.49],[1.145,0.58],[1.16,0.67],[1.15,0.76],[1.155,0.86],[1.145,0.96],[1.16,1.06],[1.15,1.16],[1.155,1.26],[1.145,1.34],
  [1.21,0.47],[1.215,0.57],[1.205,0.66],[1.22,0.75],[1.21,0.84],[1.215,0.94],[1.205,1.04],[1.22,1.14],[1.21,1.24],[1.215,1.33],[1.205,1.41],
  [1.27,0.55],[1.275,0.65],[1.265,0.74],[1.28,0.83],[1.27,0.92],[1.275,1.02],[1.265,1.12],[1.28,1.22],[1.27,1.32],[1.275,1.42],
  [1.33,0.63],[1.335,0.73],[1.325,0.82],[1.34,0.91],[1.33,1.01],[1.335,1.11],[1.325,1.21],[1.34,1.31],[1.33,1.41],[1.335,1.50],
  [1.39,0.69],[1.395,0.79],[1.385,0.89],[1.40,0.99],[1.39,1.09],[1.395,1.19],[1.385,1.29],[1.40,1.39],[1.39,1.49],[1.395,1.57],
  [1.45,0.74],[1.455,0.84],[1.445,0.94],[1.46,1.04],[1.45,1.14],[1.455,1.24],[1.445,1.34],[1.46,1.44],[1.45,1.54],[1.455,1.62],
  [1.51,0.78],[1.515,0.89],[1.505,0.99],[1.52,1.09],[1.51,1.19],[1.515,1.29],[1.505,1.39],[1.52,1.49],[1.51,1.59],[1.515,1.67],
  [1.57,0.82],[1.575,0.93],[1.565,1.03],[1.58,1.13],[1.57,1.23],[1.575,1.33],[1.565,1.43],[1.58,1.53],[1.57,1.63],
  [1.63,0.85],[1.635,0.97],[1.625,1.07],[1.64,1.17],[1.63,1.27],[1.635,1.37],[1.625,1.47],[1.64,1.57],[1.63,1.67],
  [1.69,0.90],[1.695,1.01],[1.685,1.11],[1.70,1.21],[1.69,1.31],[1.695,1.41],[1.685,1.51],[1.70,1.61],
  [1.75,0.93],[1.755,1.05],[1.745,1.15],[1.76,1.25],[1.75,1.35],[1.755,1.45],[1.745,1.55],[1.76,1.65],[1.75,1.73],
  [1.815,0.97],[1.82,1.09],[1.81,1.19],[1.825,1.29],[1.815,1.39],[1.82,1.49],[1.81,1.59],[1.825,1.69],
  [1.885,1.01],[1.89,1.13],[1.88,1.23],[1.895,1.33],[1.885,1.43],[1.89,1.53],[1.88,1.63],[1.895,1.75],
  [1.955,1.05],[1.96,1.17],[1.95,1.29],[1.965,1.39],[1.955,1.49],[1.96,1.59],[1.95,1.69],
  [2.025,1.10],[2.03,1.23],[2.02,1.35],[2.035,1.45],[2.025,1.55],[2.03,1.65],[2.02,1.77],
  [2.095,1.15],[2.10,1.29],[2.09,1.40],[2.105,1.51],[2.095,1.61],[2.10,1.73],
  [2.165,1.20],[2.17,1.33],[2.16,1.45],[2.175,1.57],[2.165,1.69],[2.17,1.81],
  [2.24,1.25],[2.245,1.39],[2.235,1.51],[2.25,1.63],[2.24,1.75],
  [2.32,1.33],[2.325,1.47],[2.315,1.60],[2.33,1.73],
  [2.40,1.40],[2.405,1.55],[2.395,1.67],
];

// further points in the band of (c) between x = 1.2 and 2.65
const fillC: P[] = [
  [1.22,0.53],[1.25,0.71],[1.23,0.88],[1.26,1.07],[1.24,1.27],[1.31,0.60],[1.28,0.79],[1.33,0.96],[1.30,1.16],[1.32,1.36],
  [1.37,0.66],[1.40,0.83],[1.38,1.04],[1.41,1.23],[1.37,1.44],[1.44,0.72],[1.46,0.91],[1.43,1.12],[1.47,1.31],[1.44,1.50],
  [1.50,0.76],[1.53,0.92],[1.51,1.13],[1.52,1.34],[1.49,1.55],[1.56,0.80],[1.59,0.97],[1.57,1.18],[1.60,1.36],[1.56,1.60],
  [1.62,0.84],[1.65,1.00],[1.63,1.20],[1.66,1.40],[1.62,1.58],[1.68,0.88],[1.71,1.05],[1.69,1.24],[1.72,1.43],[1.68,1.62],
  [1.74,0.92],[1.77,1.08],[1.75,1.28],[1.78,1.47],[1.74,1.64],[1.80,0.96],[1.83,1.12],[1.81,1.33],[1.84,1.51],[1.80,1.68],
  [1.87,1.00],[1.90,1.17],[1.88,1.36],[1.91,1.56],[1.87,1.72],[1.94,0.97],[1.97,1.14],[1.95,1.34],[1.98,1.53],[1.94,1.69],
  [2.01,1.02],[2.04,1.19],[2.02,1.40],[2.05,1.60],[2.01,1.76],[2.08,1.07],[2.11,1.26],[2.09,1.46],[2.12,1.65],
  [2.16,1.12],[2.18,1.30],[2.17,1.51],[2.19,1.69],[2.23,1.18],[2.26,1.36],[2.25,1.57],[2.27,1.72],
  [2.31,1.23],[2.34,1.42],[2.33,1.63],[2.39,1.30],[2.42,1.49],[2.41,1.62],
  [2.48,1.20],[2.50,1.35],[2.52,1.50],[2.49,1.62],[2.55,1.72],[2.58,1.28],[2.60,1.45],[2.53,1.10],[2.66,1.62],[2.47,1.80],
  [2.55,1.95],
];

const allPoints = [
  pointsA.concat(denseA, fillA),
  pointsB.concat(denseB, fillB),
  pointsC.concat(denseC, fillC),
];

const W = 1276;
const H = 448;
const LEFTS = [73, 506, 938];
const TOP = 45;
const BOTTOM = 376;
const PW = 330;
const TITLE_W = [331, 344, 340];
const FONT = '"Liberation Serif", "DejaVu Serif", serif';
const FRAME = '#262626';

function Label({ text }: { text: string }) {
  return (
    <>
      {text + ' '}
      <tspan fontStyle="italic">z</tspan>
      <tspan fontStyle="italic" fontSize={16} dy={4}>i</tspan>
      <tspan dy={-4}>{' ('}</tspan>
      <tspan fontStyle="italic">km</tspan>
      <tspan>{')'}</tspan>
    </>
  );
}

function Panel({ i }: { i: number }) {
  const left = LEFTS[i];
  const x = d3.scaleLinear().domain([0, 4]).range([left, left + PW]);
  const y = d3.scaleLinear().domain([0, 4]).range([BOTTOM, TOP]);
  const minor = d3.range(0, 4.0001, 0.2).filter((v) => Math.abs(v - Math.round(v)) > 1e-6);
  const line = d3.line<P>().x((d) => x(d[0])).y((d) => y(d[1]));
  const [f0, f1] = fitRange[i];
  const fit = (s: number): P[] => [[f0, s * f0], [f1, s * f1]];
  const cx = left + PW / 2;

  return (
    <g>
      {/* grid */}
      {[1, 2, 3].map((v) => (
        <g key={'g' + v}>
          <line x1={x(v)} x2={x(v)} y1={TOP} y2={BOTTOM} stroke="#e6e6e6" strokeWidth={3} />
          <line x1={left} x2={left + PW} y1={y(v)} y2={y(v)} stroke="#e6e6e6" strokeWidth={3} />
        </g>
      ))}
      {/* points */}
      {allPoints[i].map((d, k) => (
        <circle key={k} cx={x(d[0])} cy={y(d[1])} r={2.9} fill="#000" />
      ))}
      {/* 1:1 line */}
      <path d={line([[0, 0], [4, 4]]) || ''} stroke="#000" strokeWidth={4} fill="none" />
      {/* fit and bounds */}
      <path d={line(fit(slopes[i])) || ''} stroke="#ff0000" strokeWidth={1} fill="none" />
      <path d={line(fit(slopes[i] + slopeErr[i])) || ''} stroke="#ff0000" strokeWidth={1} strokeDasharray="1.5,3" fill="none" />
      <path d={line(fit(slopes[i] - slopeErr[i])) || ''} stroke="#ff0000" strokeWidth={1} strokeDasharray="1.5,3" fill="none" />
      {/* frame */}
      <rect x={left} y={TOP} width={PW} height={BOTTOM - TOP} fill="none" stroke={FRAME} strokeWidth={4.5} />
      {/* ticks on all sides */}
      {minor.map((v) => (
        <g key={'m' + v} stroke={FRAME} strokeWidth={2}>
          <line x1={x(v)} x2={x(v)} y1={BOTTOM - 3.5} y2={BOTTOM + 3.5} />
          <line x1={x(v)} x2={x(v)} y1={TOP - 3.5} y2={TOP + 3.5} />
          <line y1={y(v)} y2={y(v)} x1={left - 3.5} x2={left + 3.5} />
          <line y1={y(v)} y2={y(v)} x1={left + PW - 3.5} x2={left + PW + 3.5} />
        </g>
      ))}
      {tickValues.map((v) => (
        <g key={'M' + v} stroke={FRAME} strokeWidth={4}>
          <line x1={x(v)} x2={x(v)} y1={BOTTOM - 4.5} y2={BOTTOM + 4.5} />
          <line x1={x(v)} x2={x(v)} y1={TOP - 4.5} y2={TOP + 4.5} />
          <line y1={y(v)} y2={y(v)} x1={left - 4.5} x2={left + 4.5} />
          <line y1={y(v)} y2={y(v)} x1={left + PW - 4.5} x2={left + PW + 4.5} />
        </g>
      ))}
      {/* tick labels */}
      {tickValues.map((v) => (
        <text key={'xl' + v} x={x(v)} y={410} textAnchor="middle" fontSize={23} fill="#262626" style={{ fontFamily: FONT }}>{v}</text>
      ))}
      {tickValues.map((v) => (
        <text key={'yl' + v} x={left - 12} y={y(v) + 8} textAnchor="end" fontSize={23} fill="#262626" style={{ fontFamily: FONT }}>{v}</text>
      ))}
      {/* title */}
      <text x={cx} y={28} textAnchor="middle" fontSize={23} textLength={TITLE_W[i]} lengthAdjust="spacingAndGlyphs" fill="#000" style={{ fontFamily: FONT }}>
        {titles[i]}
      </text>
      {/* panel label */}
      <text x={left + 15} y={83} fontSize={24} fill="#000" style={{ fontFamily: FONT }}>{panelLabels[i]}</text>
      {/* x label */}
      <text x={cx} y={440} textAnchor="middle" fontSize={23} textLength={227} lengthAdjust="spacingAndGlyphs" fill="#262626" style={{ fontFamily: FONT }}>
        <Label text="Radiosonde" />
      </text>
    </g>
  );
}

export default function App() {
  return (
    <svg
      width={W}
      height={H}
      viewBox={`0 0 ${W} ${H}`}
      style={{ position: 'absolute', left: 0, top: 0, background: '#fff', fontFamily: FONT }}
    >
      <rect width={W} height={H} fill="#fff" />
      {[0, 1, 2].map((i) => (
        <Panel key={i} i={i} />
      ))}
      <text
        transform={`translate(34, ${(TOP + BOTTOM) / 2}) rotate(-90)`}
        textAnchor="middle"
        fontSize={23}
        textLength={270}
        lengthAdjust="spacingAndGlyphs"
        fill="#262626"
        style={{ fontFamily: FONT }}
      >
        <Label text="Tucker Method" />
      </text>
    </svg>
  );
}
